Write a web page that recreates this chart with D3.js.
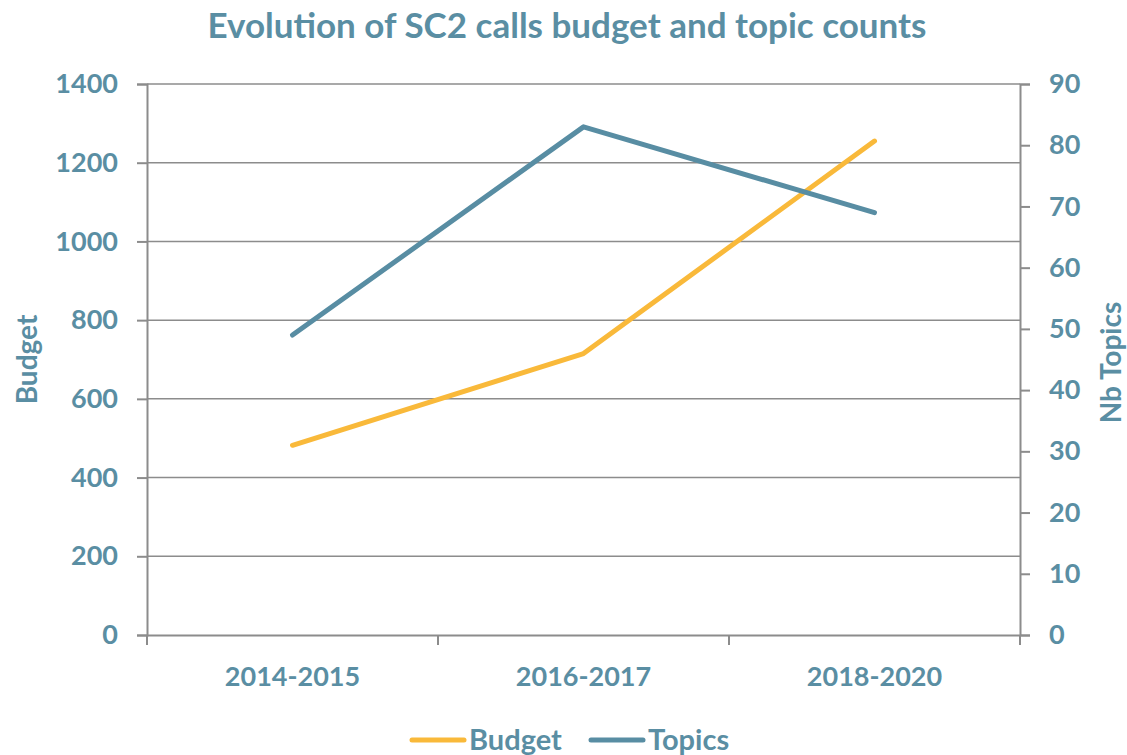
<!DOCTYPE html>
<html>
<head>
<meta charset="utf-8">
<script src="https://cdn.jsdelivr.net/npm/d3@7"></script>
<style>
  body { margin: 0; background: #fff; }
  text { font-family: Lato, "Open Sans", sans-serif; font-weight: bold; fill: #5A8EA3; }
</style>
</head>
<body>
<svg id="chart" width="1127" height="755"></svg>
<script>
const periods = ['2014-2015', '2016-2017', '2018-2020']
const budget = [482, 715, 1255]
const topics = [49, 83, 69]
const budgetTicks = [0, 200, 400, 600, 800, 1000, 1200, 1400]
const topicTicks = [0, 10, 20, 30, 40, 50, 60, 70, 80, 90]

const svg = d3.select('#chart')
const plotLeft = 147, plotRight = 1020, plotTop = 84, plotBottom = 635
const gridColor = '#8c8c8c'

const x = d3.scaleBand().domain(periods).range([plotLeft, plotRight])
const yB = d3.scaleLinear().domain([0, 1400]).range([plotBottom, plotTop])
const yT = d3.scaleLinear().domain([0, 90]).range([plotBottom, plotTop])

// title
svg.append('text').text('Evolution of SC2 calls budget and topic counts')
    .attr('x', 567).attr('y', 38)
    .attr('text-anchor', 'middle')
    .attr('font-size', 35)

// gridlines
svg.append('g').selectAll('line').data(budgetTicks.slice(1)).join('line')
    .attr('x1', plotLeft).attr('x2', plotRight)
    .attr('y1', d => yB(d)).attr('y2', d => yB(d))
    .attr('stroke', gridColor).attr('stroke-width', 1.5)

function styleAxis(g) {
    g.select('.domain').attr('stroke', gridColor).attr('stroke-width', 2)
    g.selectAll('.tick line').attr('stroke', gridColor).attr('stroke-width', 2)
    g.selectAll('.tick text').attr('font-size', 27).attr('fill', '#5A8EA3')
        .style('font-family', 'Lato, sans-serif').style('font-weight', 'bold')
}

// left axis
svg.append('g').attr('transform', `translate(${plotLeft},0)`)
    .call(d3.axisLeft(yB).tickValues(budgetTicks).tickFormat(d3.format('d')).tickSize(10).tickPadding(19))
    .call(styleAxis)

// right axis
svg.append('g').attr('transform', `translate(${plotRight},0)`)
    .call(d3.axisRight(yT).tickValues(topicTicks).tickFormat(d3.format('d')).tickSize(10).tickPadding(19))
    .call(styleAxis)

// bottom axis
svg.append('g').attr('transform', `translate(0,${plotBottom})`)
    .call(d3.axisBottom(x).tickSize(0).tickPadding(32))
    .call(styleAxis)
const edges = periods.map(p => x(p)).concat([plotRight])
svg.append('g').selectAll('line').data(edges).join('line')
    .attr('x1', d => d).attr('x2', d => d)
    .attr('y1', plotBottom).attr('y2', plotBottom + 10)
    .attr('stroke', gridColor).attr('stroke-width', 2)

// axis titles
svg.append('text').text('Budget')
    .attr('transform', `translate(37,${(plotTop + plotBottom) / 2}) rotate(-90)`)
    .attr('text-anchor', 'middle').attr('font-size', 28)
svg.append('text').text('Nb Topics')
    .attr('transform', `translate(1121,${(plotTop + plotBottom) / 2 + 3}) rotate(-90)`)
    .attr('text-anchor', 'middle').attr('font-size', 28)

const cx = p => x(p) + x.bandwidth() / 2

svg.append('path')
    .datum(budget)
    .attr('fill', 'none').attr('stroke', '#F9B93A').attr('stroke-width', 5)
    .attr('stroke-linecap', 'round').attr('stroke-linejoin', 'round')
    .attr('d', d3.line().x((d, i) => cx(periods[i])).y(d => yB(d)))

svg.append('path')
    .datum(topics)
    .attr('fill', 'none').attr('stroke', '#588DA3').attr('stroke-width', 5)
    .attr('stroke-linecap', 'round').attr('stroke-linejoin', 'round')
    .attr('d', d3.line().x((d, i) => cx(periods[i])).y(d => yT(d)))

// legend
const legend = [['Budget', '#F9B93A', 412], ['Topics', '#588DA3', 591]]
legend.forEach(([name, color, lx]) => {
    svg.append('line')
        .attr('x1', lx).attr('x2', lx + 52)
        .attr('y1', 740).attr('y2', 740)
        .attr('stroke', color).attr('stroke-width', 5).attr('stroke-linecap', 'round')
    svg.append('text').text(name)
        .attr('x', lx + 57).attr('y', 750)
        .attr('font-size', 29)
})
</script>
</body>
</html>
